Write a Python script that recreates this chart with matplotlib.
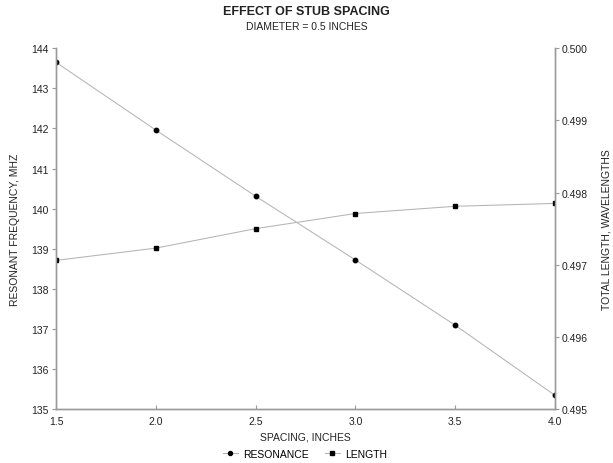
import matplotlib
matplotlib.use("Agg")
import matplotlib.pyplot as plt

spacing = [1.5, 2.0, 2.5, 3.0, 3.5, 4.0]
resonance = [143.65, 141.96, 140.31, 138.72, 137.09, 135.34]
length = [0.49706, 0.49723, 0.49750, 0.49771, 0.49781, 0.49785]

x_ticks = [1.5, 2.0, 2.5, 3.0, 3.5, 4.0]
left_ticks = [135, 136, 137, 138, 139, 140, 141, 142, 143, 144]
right_ticks = [0.495, 0.496, 0.497, 0.498, 0.499, 0.500]

plt.rcParams['font.family'] = ['Liberation Sans', 'DejaVu Sans']

fig = plt.figure(figsize=(6.13, 4.64), dpi=100)
ax = fig.add_axes([56/613, 1-410/464, (555-56)/613, (410-49.3)/464])
ax2 = ax.twinx()

line_col = '#b4b4b4'
spine_col = '#9a9a9a'

l1, = ax.plot(spacing, resonance, color=line_col, lw=0.75, marker='o', ms=3.2,
              mfc='black', mec='black', label='RESONANCE')
l2, = ax2.plot(spacing, length, color=line_col, lw=0.75, marker='s', ms=3.0,
               mfc='black', mec='black', label='LENGTH')

ax.set_xlim(1.5, 4.0)
ax.set_ylim(135, 144)
ax2.set_ylim(0.495, 0.500)
ax.set_xticks(x_ticks)
ax.set_xticklabels([f"{v:.1f}" for v in x_ticks])
ax.set_yticks(left_ticks)
ax2.set_yticks(right_ticks)
ax2.set_yticklabels([f"{v:.3f}" for v in right_ticks])

for a in (ax, ax2):
    a.spines['top'].set_visible(False)
    for s in ('left', 'right', 'bottom'):
        a.spines[s].set_color(spine_col)
        a.spines[s].set_linewidth(1.0)

ax.tick_params(axis='y', direction='out', length=3, color=spine_col, labelsize=7.5, pad=2, labelcolor='#222222')
ax.tick_params(axis='x', direction='in', length=3, color=spine_col, labelsize=7.5, pad=5, labelcolor='#222222')
ax2.tick_params(axis='y', direction='out', length=3, color=spine_col, labelsize=7.5, pad=2, labelcolor='#222222')

ax.set_xlabel('SPACING, INCHES', fontsize=7.5, labelpad=4, color='#222222')
ax.set_ylabel('RESONANT FREQUENCY, MHZ', fontsize=7.5, labelpad=8, color='#222222')
ax2.set_ylabel('TOTAL LENGTH, WAVELENGTHS', fontsize=7.5, labelpad=10, color='#222222')

fig.text(0.5, 1-12/464, 'EFFECT OF STUB SPACING', ha='center', va='center',
         fontsize=9, fontweight='bold', color='#222222')
fig.text(0.5, 1-27/464, 'DIAMETER = 0.5 INCHES', ha='center', va='center',
         fontsize=7.5, color='#222222')

fig.legend(handles=[l1, l2], loc='center', bbox_to_anchor=(305/613, 1-455/464),
           ncol=2, frameon=False, fontsize=7.5, handlelength=1.5,
           columnspacing=1.5, handletextpad=0.5, markerscale=0.9)

fig.savefig('out.png', dpi=100)
